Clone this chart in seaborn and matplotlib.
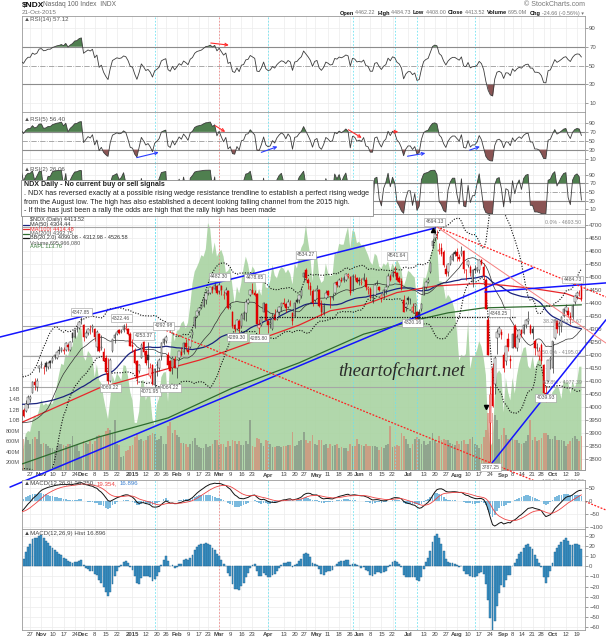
import numpy as np
import pandas as pd
import matplotlib
matplotlib.use("Agg")
import matplotlib.pyplot as plt
import seaborn as sns
from matplotlib.patches import Rectangle
from matplotlib.lines import Line2D
from matplotlib.transforms import ScaledTranslation

# ---------------- data ----------------
holidays = ["2014-11-27", "2014-12-25", "2015-01-01", "2015-01-19", "2015-02-16",
            "2015-04-03", "2015-05-25", "2015-07-03", "2015-09-07"]

# Aug 1 - Oct 20 2014 closes, only used to warm up the indicators
pre_close = [3925, 3950, 3910, 3915, 3900, 3940, 3965, 3965, 4000, 4015, 4025, 4045, 4060, 4065,
             4060, 4065, 4080, 4085, 4080, 4075, 4082,
             4090, 4070, 4065, 4080, 4085, 4050, 4065, 4070, 4050, 4020, 4045, 4055, 4075, 4075,
             4030, 4015, 4055, 3985, 4020, 4010, 4050,
             3990, 3995, 4030, 4025, 3960, 4030, 3940, 3855, 3795, 3805, 3795, 3795, 3850, 3905]

open_ = [3950, 3990, 3985, 4010, 4030, 4055, 4095, 4075, 4150,
         4160, 4150, 4170, 4155, 4175, 4175, 4192, 4190, 4220, 4220, 4215, 4220, 4240, 4220, 4285, 4270, 4300, 4305, 4340,
         4315, 4270, 4285, 4295, 4305, 4300, 4230, 4280, 4225, 4210, 4190, 4130, 4100, 4215, 4265, 4280, 4295, 4290, 4295, 4300, 4300, 4280,
         4240, 4220, 4175, 4140, 4190, 4250, 4215, 4200, 4120, 4160, 4085, 4160, 4150, 4195, 4245, 4255, 4200, 4175, 4150, 4185,
         4150, 4190, 4210, 4210, 4245, 4220, 4230, 4275, 4310, 4350, 4370, 4380, 4390, 4410, 4440, 4440, 4460, 4455, 4465,
         4445, 4465, 4430, 4440, 4445, 4385, 4365, 4315, 4300, 4330, 4310, 4340, 4360, 4400, 4430, 4450, 4440, 4435, 4305, 4315, 4365, 4395,
         4330, 4320, 4300, 4355, 4340, 4365, 4385, 4400, 4395, 4385, 4395, 4360, 4350, 4410, 4410, 4425, 4500, 4525, 4490, 4465, 4445,
         4410, 4450, 4450, 4395, 4360, 4420, 4445, 4415, 4420, 4440, 4480, 4465, 4490, 4490, 4490, 4505, 4500, 4450, 4500, 4495,
         4490, 4475, 4490, 4490, 4455, 4455, 4420, 4430, 4475, 4460, 4420, 4430, 4450, 4465, 4505, 4505, 4520, 4515, 4495, 4485, 4410, 4385,
         4420, 4410, 4370, 4390, 4365, 4365, 4375, 4430, 4460, 4480, 4520, 4620, 4650, 4660, 4600, 4610, 4595, 4530, 4520, 4550, 4565, 4595,
         4595, 4575, 4590, 4600, 4525, 4545, 4540, 4480, 4530, 4525, 4525, 4565, 4540, 4490, 4335, 3940, 4150, 4090, 4265, 4280, 4290,
         4200, 4175, 4260, 4185, 4225, 4310, 4225, 4260, 4295, 4285, 4315, 4330, 4310, 4300, 4255, 4225, 4195, 4240, 4160, 4055, 4100,
         4180, 4150, 4265, 4330, 4310, 4310, 4350, 4370, 4370, 4350, 4345, 4405, 4425, 4440, 4462]
high = [3990, 3995, 4025, 4045, 4045, 4100, 4110, 4110, 4160,
        4175, 4160, 4175, 4172, 4180, 4195, 4205, 4215, 4235, 4230, 4230, 4250, 4245, 4255, 4290, 4300, 4310, 4330, 4347,
        4320, 4295, 4305, 4315, 4320, 4305, 4295, 4285, 4275, 4225, 4200, 4190, 4190, 4260, 4285, 4295, 4300, 4300, 4320, 4322, 4305, 4290,
        4260, 4225, 4180, 4165, 4245, 4253, 4220, 4250, 4170, 4165, 4150, 4175, 4190, 4248, 4265, 4275, 4210, 4180, 4195, 4195,
        4185, 4215, 4230, 4250, 4260, 4235, 4275, 4300, 4350, 4370, 4385, 4395, 4420, 4445, 4450, 4462, 4465, 4480, 4470,
        4483, 4470, 4445, 4460, 4450, 4400, 4370, 4320, 4340, 4340, 4360, 4370, 4415, 4420, 4455, 4478, 4450, 4440, 4340, 4350, 4405, 4400,
        4335, 4340, 4360, 4375, 4375, 4390, 4400, 4420, 4400, 4415, 4410, 4365, 4405, 4420, 4435, 4460, 4520, 4534, 4495, 4480, 4455,
        4450, 4470, 4455, 4410, 4400, 4450, 4450, 4425, 4440, 4480, 4485, 4495, 4500, 4505, 4515, 4515, 4505, 4510, 4510, 4500,
        4500, 4495, 4515, 4500, 4465, 4460, 4435, 4475, 4490, 4465, 4435, 4455, 4470, 4515, 4510, 4525, 4541, 4520, 4505, 4495, 4430, 4405,
        4425, 4420, 4400, 4400, 4370, 4375, 4400, 4465, 4485, 4500, 4560, 4650, 4694, 4680, 4630, 4630, 4605, 4545, 4555, 4585, 4595, 4605,
        4610, 4590, 4620, 4605, 4530, 4565, 4545, 4530, 4545, 4540, 4570, 4570, 4555, 4495, 4345, 4080, 4170, 4195, 4300, 4310, 4300,
        4210, 4235, 4285, 4200, 4285, 4320, 4280, 4300, 4300, 4320, 4340, 4370, 4320, 4310, 4260, 4245, 4230, 4245, 4165, 4080, 4180,
        4195, 4255, 4340, 4335, 4330, 4350, 4380, 4395, 4385, 4365, 4395, 4430, 4445, 4450, 4485]
low = [3945, 3960, 3980, 3995, 4020, 4055, 4065, 4060, 4135,
       4150, 4125, 4140, 4145, 4150, 4170, 4185, 4185, 4205, 4210, 4205, 4215, 4215, 4215, 4250, 4265, 4290, 4300, 4320,
       4255, 4265, 4275, 4280, 4290, 4255, 4215, 4210, 4220, 4175, 4125, 4070, 4095, 4210, 4245, 4275, 4280, 4285, 4290, 4295, 4275, 4235,
       4210, 4165, 4090, 4130, 4190, 4200, 4160, 4150, 4110, 4085, 4075, 4120, 4140, 4180, 4240, 4245, 4150, 4140, 4125, 4150,
       4110, 4180, 4195, 4205, 4220, 4205, 4225, 4265, 4305, 4345, 4355, 4375, 4385, 4395, 4430, 4435, 4440, 4450, 4435,
       4435, 4430, 4415, 4430, 4375, 4375, 4305, 4290, 4295, 4280, 4305, 4335, 4330, 4395, 4425, 4435, 4425, 4320, 4280, 4310, 4365, 4335,
       4285, 4305, 4295, 4335, 4335, 4355, 4370, 4390, 4365, 4380, 4390, 4315, 4345, 4400, 4400, 4420, 4485, 4490, 4455, 4430, 4390,
       4405, 4445, 4385, 4350, 4355, 4415, 4425, 4380, 4410, 4435, 4460, 4460, 4480, 4480, 4485, 4495, 4430, 4445, 4490, 4475,
       4470, 4470, 4485, 4450, 4435, 4415, 4400, 4425, 4470, 4445, 4405, 4420, 4435, 4460, 4485, 4500, 4505, 4485, 4475, 4450, 4365, 4370,
       4395, 4395, 4360, 4330, 4320, 4320, 4370, 4430, 4455, 4475, 4515, 4610, 4640, 4645, 4590, 4580, 4540, 4505, 4505, 4545, 4560, 4580,
       4560, 4560, 4580, 4515, 4490, 4540, 4505, 4460, 4515, 4520, 4515, 4545, 4490, 4375, 4200, 3787, 4000, 4050, 4205, 4270, 4260,
       4135, 4160, 4215, 4150, 4225, 4225, 4215, 4250, 4270, 4280, 4305, 4320, 4280, 4260, 4200, 4215, 4180, 4165, 4050, 4020, 4095,
       4145, 4130, 4260, 4285, 4275, 4290, 4345, 4365, 4345, 4320, 4340, 4395, 4415, 4425, 4408]
close = [3985, 3965, 4010, 4040, 4040, 4095, 4085, 4100, 4158,
         4165, 4150, 4155, 4170, 4170, 4190, 4200, 4210, 4215, 4225, 4220, 4245, 4230, 4250, 4265, 4295, 4300, 4325, 4335,
         4270, 4285, 4300, 4295, 4310, 4270, 4290, 4215, 4230, 4175, 4135, 4100, 4180, 4260, 4275, 4290, 4285, 4290, 4310, 4305, 4280, 4236,
         4230, 4170, 4110, 4160, 4240, 4210, 4170, 4180, 4150, 4090, 4145, 4160, 4180, 4245, 4260, 4270, 4160, 4140, 4190, 4150,
         4180, 4215, 4200, 4245, 4230, 4210, 4270, 4290, 4345, 4370, 4380, 4390, 4415, 4440, 4445, 4460, 4450, 4470, 4440,
         4470, 4450, 4430, 4450, 4380, 4390, 4310, 4300, 4335, 4300, 4355, 4360, 4405, 4410, 4450, 4440, 4430, 4320, 4315, 4345, 4400, 4335,
         4315, 4320, 4350, 4335, 4365, 4385, 4400, 4395, 4380, 4405, 4395, 4330, 4400, 4405, 4430, 4450, 4515, 4495, 4475, 4450, 4400,
         4445, 4455, 4390, 4365, 4390, 4440, 4430, 4415, 4420, 4475, 4470, 4490, 4485, 4495, 4510, 4505, 4440, 4505, 4500, 4480,
         4485, 4480, 4495, 4460, 4455, 4420, 4420, 4470, 4475, 4450, 4430, 4450, 4460, 4505, 4490, 4520, 4515, 4490, 4480, 4455, 4365, 4395,
         4410, 4410, 4385, 4395, 4325, 4330, 4395, 4460, 4480, 4490, 4555, 4640, 4665, 4660, 4605, 4590, 4545, 4510, 4550, 4575, 4590, 4590,
         4580, 4570, 4600, 4530, 4525, 4560, 4515, 4525, 4525, 4535, 4565, 4550, 4505, 4375, 4200, 4050, 4005, 4190, 4290, 4305, 4275,
         4150, 4235, 4230, 4175, 4280, 4230, 4270, 4295, 4280, 4315, 4335, 4340, 4285, 4285, 4225, 4225, 4215, 4175, 4055, 4050, 4180,
         4190, 4255, 4335, 4300, 4320, 4345, 4375, 4385, 4355, 4335, 4390, 4425, 4440, 4438, 4414]
volume_m = [700, 650, 680, 620, 560, 640, 690, 640, 800,
            560, 580, 560, 520, 480, 470, 430, 520, 560, 560, 540, 520, 560, 560, 700, 520, 540, 420, 300,
            610, 580, 560, 600, 560, 600, 700, 720, 680, 730, 800, 860, 820, 760, 1000, 560, 540, 300, 330, 420, 430, 520,
            540, 680, 760, 620, 640, 600, 620, 700, 720, 760, 750, 620, 640, 700, 560, 560, 900, 980, 760, 820,
            720, 680, 580, 580, 560, 500, 560, 600, 660, 540, 500, 480, 480, 560, 500, 520, 560, 620, 620,
            540, 560, 560, 500, 600, 520, 620, 600, 560, 600, 540, 540, 600, 560, 1000, 520, 500, 660, 640, 580, 520, 620,
            600, 560, 500, 500, 520, 520, 500, 520, 520, 540, 540, 780, 520, 540, 600, 620, 780, 620, 580, 600, 720,
            560, 540, 620, 620, 540, 560, 480, 560, 520, 540, 560, 480, 500, 480, 480, 420, 560, 520, 520, 640,
            560, 540, 520, 560, 520, 520, 520, 520, 500, 440, 500, 480, 540, 560, 900, 500, 520, 540, 520, 760, 700, 640,
            560, 480, 560, 640, 680, 640, 560, 600, 540, 560, 600, 760, 620, 580, 700, 620, 640, 620, 620, 580, 560, 540,
            600, 560, 600, 620, 560, 560, 640, 680, 560, 540, 480, 560, 680, 820, 1150, 1480, 1150, 1100, 1000, 640, 720,
            860, 720, 640, 620, 640, 620, 620, 580, 560, 580, 600, 720, 1000, 620, 680, 600, 620, 660, 760, 760, 720,
            640, 640, 700, 620, 620, 620, 600, 520, 560, 600, 660, 700, 640, 600, 696]
aapl = [102.5, 102.9, 104.8, 105.2, 105.1, 106.7, 107.3, 107.0, 108.0,
        109.4, 108.6, 108.9, 108.7, 109.0, 108.8, 109.7, 111.3, 112.8, 114.2, 114.0, 115.5, 115.2, 116.3, 116.5, 118.6, 117.6, 119.0, 118.9,
        115.1, 114.6, 115.9, 115.5, 115.0, 112.4, 114.1, 112.0, 111.6, 109.7, 108.2, 106.8, 109.4, 112.7, 111.8, 112.9, 112.5, 112.0, 114.0, 113.9, 112.5, 110.4,
        109.3, 106.3, 106.3, 107.8, 111.9, 112.0, 109.3, 110.2, 109.8, 106.8, 106.0, 108.7, 109.6, 112.4, 113.0, 113.1, 109.1, 115.3, 118.9, 117.2,
        118.6, 118.7, 119.6, 119.9, 118.9, 119.7, 122.0, 124.9, 126.5, 127.1, 127.8, 128.7, 128.5, 129.5, 133.0, 132.2, 128.8, 130.4, 128.5,
        129.1, 129.4, 128.5, 126.4, 126.6, 127.1, 124.5, 122.2, 124.5, 123.6, 125.0, 127.0, 128.5, 127.5, 125.9, 127.2, 126.7, 123.4, 124.2, 123.3, 126.4, 124.4,
        124.3, 125.3, 127.4, 126.0, 125.6, 126.6, 127.1, 126.9, 126.3, 126.8, 126.2, 124.8, 127.6, 126.9, 128.6, 129.7, 130.3, 132.7, 130.6, 128.6, 125.2,
        129.0, 128.7, 125.8, 125.0, 125.3, 127.6, 126.3, 125.9, 126.0, 129.0, 128.8, 130.2, 130.1, 130.1, 131.4, 132.5, 129.6, 132.0, 131.8, 130.3,
        130.5, 130.0, 130.1, 129.4, 128.7, 127.8, 127.4, 128.9, 128.6, 127.2, 126.9, 127.6, 127.3, 127.9, 126.6, 127.6, 127.0, 128.1, 127.5, 126.8, 124.5, 125.4,
        126.6, 126.4, 126.0, 125.7, 122.6, 120.1, 123.3, 125.7, 125.6, 126.8, 128.5, 129.6, 132.1, 130.8, 125.2, 125.2, 124.5, 122.8, 123.4, 123.0, 122.4, 121.3,
        118.4, 114.6, 115.4, 115.1, 115.5, 119.7, 113.5, 115.2, 115.2, 116.0, 117.2, 116.5, 115.0, 112.7, 105.8, 103.1, 103.7, 109.7, 112.9, 113.3, 112.8,
        107.7, 112.3, 110.4, 109.3, 112.3, 110.2, 112.6, 114.2, 115.3, 116.3, 116.4, 113.9, 113.5, 115.2, 113.4, 114.3, 115.0, 114.7, 112.4, 109.1, 110.3,
        109.6, 110.4, 110.8, 111.3, 110.8, 109.5, 112.1, 111.6, 111.8, 110.2, 111.9, 111.0, 111.7, 113.8, 113.8]

ma100_dates = ["2014-10-21", "2014-12-10", "2015-01-15", "2015-02-17", "2015-03-02", "2015-04-22",
               "2015-05-12", "2015-06-03", "2015-06-24", "2015-07-20", "2015-08-17", "2015-09-01",
               "2015-09-21", "2015-10-12", "2015-10-21"]
ma100_vals = [3940, 4073, 4131, 4180, 4205, 4315, 4370, 4392, 4440, 4465, 4475, 4468, 4456, 4436, 4414.5]
ma200_dates = ["2014-10-21", "2014-12-10", "2015-01-27", "2015-03-10", "2015-04-22", "2015-06-03",
               "2015-07-08", "2015-07-28", "2015-08-19", "2015-09-21", "2015-10-21"]
ma200_vals = [3780, 3885, 3958, 4073, 4170, 4280, 4335, 4362, 4381, 4386, 4392.75]

tick_dates = ["2014-10-27", "2014-11-03", "2014-11-10", "2014-11-17", "2014-11-24", "2014-12-01",
              "2014-12-08", "2014-12-15", "2014-12-22", "2015-01-02", "2015-01-12", "2015-01-20",
              "2015-01-26", "2015-02-02", "2015-02-09", "2015-02-17", "2015-02-23", "2015-03-02",
              "2015-03-09", "2015-03-16", "2015-03-23", "2015-04-01", "2015-04-13", "2015-04-20",
              "2015-04-27", "2015-05-01", "2015-05-11", "2015-05-18", "2015-05-26", "2015-06-01",
              "2015-06-08", "2015-06-15", "2015-06-22", "2015-07-01", "2015-07-13", "2015-07-20",
              "2015-07-27", "2015-08-03", "2015-08-10", "2015-08-17", "2015-08-24", "2015-09-01",
              "2015-09-08", "2015-09-14", "2015-09-21", "2015-09-28", "2015-10-01", "2015-10-12",
              "2015-10-19"]
tick_labels = ["27", "Nov", "10", "17", "24", "Dec", "8", "15", "22", "2015", "12", "20", "26", "Feb",
               "9", "17", "23", "Mar", "9", "16", "23", "Apr", "13", "20", "27", "May", "11", "18", "26",
               "Jun", "8", "15", "22", "Jul", "13", "20", "27", "Aug", "10", "17", "24", "Sep", "8", "14",
               "21", "28", "Oct", "12", "19"]
# small sideways nudges (points) for tick labels that would touch
tick_nudge = {"2015-09-28": -2.0, "2015-10-01": 2.0, "2015-04-27": -1.0, "2015-05-01": 1.0}

cyan_dates = ["2015-01-16", "2015-04-01", "2015-05-27", "2015-06-23", "2015-07-08", "2015-08-13"]
red_dates = ["2015-03-02"]

fib_high, fib_low = 4693.50, 3696.56
fib_pcts = [0.0, 38.2, 50.0, 61.8, 100.0]

# hand drawn lines: (x0, price0, x1, price1) in trading-day units
blue_lines = [(-9.6, 4269, 186.1, 4688), (-5.1, 3692, 230.2, 4535),
              (208.6, 4442, 263, 4477), (211.8, 3785, 263, 4335)]
red_lines = [(187, 4692, 263, 4423), (62.4, 4304, 263, 3604)]
red_thin_lines = [(187, 4692, 263, 4246)]
support_line = (107, 4346, 222)

price_tags = [("4347.85", 27, 4365), ("4322.46", 45, 4342), ("4253.37", 55, 4273), ("4292.98", 64, 4312),
              ("4069.22", 40, 4073), ("4071.95", 58, 4058), ("4064.22", 67, 4073), ("4482.30", 89, 4500),
              ("4478.65", 105, 4496), ("4289.30", 97, 4269), ("4285.80", 107, 4265), ("4534.27", 128, 4585),
              ("4541.64", 169, 4581), ("4694.13", 186, 4712), ("4320.16", 176, 4323), ("4348.25", 215, 4361),
              ("4484.73", 248, 4490), ("3787.25", 211, 3769), ("4039.93", 236, 4035)]

rsi14_arrows = [((84.0, 74.3), (94.6, 71.4), "red")]
rsi5_arrows = [((50.7, 10.5), (63.0, 25.4), "blue"), ((86.2, 87.1), (92.8, 66.8), "red"),
               ((106.8, 21.8), (116.4, 38.9), "blue"), ((146.1, 78.1), (154.2, 53.3), "red"),
               ((166.3, 70.4), (170.8, 70.4), "red"), ((172.5, 14.1), (183.0, 23.1), "blue"),
               ((200.5, 26.9), (207.5, 38.9), "blue")]

note_lines = ["NDX Daily - No current buy or sell signals",
              ". NDX has reversed exactly at a possible rising wedge resistance trendline to establish a perfect rising wedge",
              "from the August low. The high has also established a decent looking falling channel from the 2015 high.",
              "- If this has just been a rally the odds are high that the rally high has been made"]

# ---------------- derived series ----------------
days = pd.bdate_range("2014-10-21", "2015-10-21")
days = days[~days.isin(pd.to_datetime(holidays))]
n = len(days)
for arr in (open_, high, low, close, volume_m, aapl):
    assert len(arr) == n, len(arr)
idx = np.arange(n)
pos = lambda ds: days.get_indexer(pd.to_datetime(ds))

o, h, l, c = (np.array(a, float) for a in (open_, high, low, close))
full = pd.Series(pre_close + close, dtype=float)


def rsi(s, k):
    d = s.diff()
    up = d.clip(lower=0).ewm(alpha=1 / k, adjust=False).mean()
    dn = (-d.clip(upper=0)).ewm(alpha=1 / k, adjust=False).mean()
    return (100 - 100 / (1 + up / dn)).to_numpy()[-n:]


r14, r5, r2 = rsi(full, 14), rsi(full, 5), rsi(full, 2)
macd_full = full.ewm(span=12, adjust=False).mean() - full.ewm(span=26, adjust=False).mean()
sig_full = macd_full.ewm(span=9, adjust=False).mean()
macd = macd_full.to_numpy()[-n:]
sig = sig_full.to_numpy()[-n:]
hist = macd - sig
ma50 = full.rolling(50).mean().to_numpy()[-n:]
bb_mid = full.rolling(20).mean().to_numpy()[-n:]
bb_sd = full.rolling(20).std(ddof=0).to_numpy()[-n:]
prev = np.r_[pre_close[-1], c[:-1]]
down = c < prev

# ---------------- figure ----------------
sns.set_style("white")
plt.rcParams['font.family'] = ['Liberation Sans', 'DejaVu Sans']
W, H = 606, 640
fig = plt.figure(figsize=(W / 100, H / 100), dpi=100)
fig.patch.set_facecolor("white")
renderer = fig.canvas.get_renderer()
XL = (0.3, 253.6)
tick_idx = pos(tick_dates)


def ftext(x, y, s, **kw):
    kw.setdefault("va", "center")
    return fig.text(x / W, 1 - y / H, s, **kw)


def text_row(x, y, parts, align="left", gap=2.0):
    # lay pieces of text side by side, measured so they never overlap
    objs = [ftext(x, y, s, **kw) for s, kw in parts]
    widths = [t.get_window_extent(renderer).width for t in objs]
    cur = x - (sum(widths) + gap * (len(objs) - 1)) if align == "right" else x
    for t, w in zip(objs, widths):
        t.set_x(cur / W)
        cur += w + gap


def panel(top, bottom, yl, yt, frame=True):
    ax = fig.add_axes([22 / W, 1 - bottom / H, 563 / W, (bottom - top) / H])
    ax.set_xlim(*XL)
    ax.set_ylim(*yl)
    for s in ax.spines.values():
        s.set_color("#9a9a9a")
        s.set_linewidth(0.6)
        s.set_visible(frame)
    ax.tick_params(axis="x", bottom=False, labelbottom=False)
    ax.yaxis.tick_right()
    ax.set_yticks(yt)
    ax.tick_params(axis="y", labelsize=4.3, length=2, width=0.4, pad=1, colors="#555555")
    return ax


def decorate(ax, hgrid):
    for t in tick_idx:
        ax.axvline(t, color="#ececec", lw=0.5, zorder=0)
    for v in hgrid:
        ax.axhline(v, color="#ececec", lw=0.5, zorder=0)
    for t in pos(cyan_dates):
        ax.axvline(t, color="#6fe3f2", lw=0.6, ls=(0, (2, 2)), zorder=1)
    for t in pos(red_dates):
        ax.axvline(t, color="#f08a8a", lw=0.6, ls=(0, (2, 2)), zorder=1)


def date_axis(ax, pad):
    ax.set_xticks(tick_idx)
    ax.set_xticklabels(tick_labels)
    ax.tick_params(axis="x", bottom=True, labelbottom=True, length=0, pad=pad, labelsize=4.3, colors="#444444")
    for t, d in zip(ax.get_xticklabels(), tick_dates):
        if not t.get_text().isdigit() or t.get_text() == "2015":
            t.set_fontweight("bold")
        if d in tick_nudge:
            t.set_transform(t.get_transform() + ScaledTranslation(tick_nudge[d] / 72, 0, fig.dpi_scale_trans))


def rsi_panel(top, bottom, yl, vals, arrows):
    ax = panel(top, bottom, yl, [10, 30, 50, 70, 90])
    decorate(ax, [10, 90])
    ax.axhline(70, color="#8c8c8c", lw=0.8, zorder=1)
    ax.axhline(30, color="#8c8c8c", lw=0.8, zorder=1)
    ax.axhline(50, color="#9a9a9a", lw=0.6, ls="-.", zorder=1)
    ax.fill_between(idx, vals, 70, where=vals >= 70, interpolate=True, color="#4f7f4f", lw=0, zorder=2)
    ax.fill_between(idx, vals, 30, where=vals <= 30, interpolate=True, color="#8a5454", lw=0, zorder=2)
    sns.lineplot(x=idx, y=vals, ax=ax, color="#3c3c3c", lw=0.6, legend=False, zorder=3)
    for (x0, y0), (x1, y1), col in arrows:
        ax.annotate("", xy=(x1, y1), xytext=(x0, y0),
                    arrowprops=dict(arrowstyle="->", color={"red": "#ff2a2a", "blue": "#2a3cff"}[col],
                                    lw=0.8, mutation_scale=5), zorder=4)
    ax.set_xlim(*XL)
    ax.set_ylim(*yl)
    ax.set_xlabel("")
    ax.set_ylabel("")
    return ax


# header
ftext(22, 5, "$NDX", fontsize=6, fontweight="bold", color="#111111")
ftext(43, 5, "Nasdaq 100 Index  INDX", fontsize=4.8, color="#666666")
ftext(22, 13, "21-Oct-2015", fontsize=4.5, color="#777777")
ftext(585, 5, "\u00a9 StockCharts.com", fontsize=5, color="#777777", ha="right")
lab_kw = dict(fontsize=4.1, fontweight="bold", color="#111111")
val_kw = dict(fontsize=3.9, color="#777777")
hdr = []
for lab, val in [("Open", "4462.22"), ("High", "4484.73"), ("Low", "4408.00"),
                 ("Close", "4413.52"), ("Volume", "695.0M"), ("Chg", "-24.66 (-0.56%) \u25be")]:
    hdr += [(lab, lab_kw), (val + " ", val_kw)]
text_row(585, 13, hdr, align="right", gap=1.2)

# RSI panels
ax14 = rsi_panel(16, 112, (0.4, 102.8), r14, rsi14_arrows)
ftext(24, 20, "\u25b2RSI(14) 57.12", fontsize=4.4, color="#555555")
ax5 = rsi_panel(112, 163, (-0.1, 114.8), r5, rsi5_arrows)
ftext(24, 119, "\u25b2RSI(5) 56.40", fontsize=4.4, color="#555555")
ax2 = rsi_panel(163, 214, (-0.3, 116.3), r2, [])
ftext(24, 170, "\u25b2RSI(2) 26.06", fontsize=4.4, color="#555555", zorder=22)

# main price panel (stacked axes: grid, AAPL area, volume, price)
main_yl = (3757.7, 4742)
ax_grid = panel(214, 470, main_yl, [])
ax_grid.tick_params(axis="y", right=False, labelright=False)
decorate(ax_grid, range(3800, 4701, 50))

ax_aapl = panel(214, 470, (100.0, 134.2), [], frame=False)
ax_aapl.patch.set_visible(False)
ax_aapl.tick_params(axis="y", right=False, labelright=False)
ax_aapl.fill_between(idx, aapl, 0, color="#a9d3a2", alpha=0.9, lw=0)

ax_vol = panel(214, 470, (57e6, 4.933e9), [], frame=False)
ax_vol.patch.set_visible(False)
vol = np.array(volume_m) * 1e6
ax_vol.bar(idx, vol, width=0.8, color=np.where(down, "#d9826f", "#7f8a7f"), alpha=0.65, lw=0)
ax_vol.yaxis.tick_left()
ax_vol.set_yticks(np.arange(2e8, 1.7e9, 2e8))
ax_vol.set_yticklabels(["200M", "400M", "600M", "800M", "1.0B", "1.2B", "1.4B", "1.6B"])
ax_vol.tick_params(axis="y", left=True, right=False, labelleft=True, labelright=False,
                   labelsize=4.0, length=0, pad=1.5, colors="#555555")

ax = panel(214, 470, main_yl, range(3800, 4701, 50), frame=True)
ax.patch.set_visible(False)
for t in pos(cyan_dates):
    ax.axvline(t, color="#6fe3f2", lw=0.6, ls=(0, (2, 2)), zorder=1)
for t in pos(red_dates):
    ax.axvline(t, color="#f08a8a", lw=0.6, ls=(0, (2, 2)), zorder=1)

# fibonacci levels
span = fib_high - fib_low
for p in fib_pcts:
    lvl = fib_high - span * p / 100
    if p < 100:
        ax.axhline(lvl, color="#a6a6a6", lw=0.8, zorder=1)
    ax.text(252 if p < 100 else 253, lvl + 6, f"{p:.1f}% - {lvl:.2f}", fontsize=3.8, color="#888888",
            ha="right", va="bottom", clip_on=False, zorder=6)

# moving averages and bands
sns.lineplot(x=idx, y=ma50, ax=ax, color="#1a237e", lw=0.9, legend=False, zorder=3)
sns.lineplot(x=pos(ma100_dates), y=ma100_vals, ax=ax, color="#e8262a", lw=0.9, legend=False, zorder=3)
sns.lineplot(x=pos(ma200_dates), y=ma200_vals, ax=ax, color="#2e6b2e", lw=0.9, legend=False, zorder=3)
sns.lineplot(x=idx, y=bb_mid, ax=ax, color="#333333", lw=0.5, legend=False, zorder=3)
for band in (bb_mid + 2 * bb_sd, bb_mid - 2 * bb_sd):
    ax.plot(idx, band, color="#111111", lw=0.8, ls=(0, (1, 1.4)), zorder=3)

# candles
edge = np.where(down, "#e00000", "#333333")
face = np.where(c < o, edge, "white")
ax.vlines(idx, l, h, colors=edge, lw=0.5, zorder=4)
ax.bar(idx, np.maximum(np.abs(c - o), 1.5), bottom=np.minimum(o, c), width=0.7,
       color=face, edgecolor=edge, lw=0.35, zorder=5)

# hand drawn lines
for x0, y0, x1, y1 in blue_lines:
    ax.plot([x0, x1], [y0, y1], color="#1414ff", lw=1.1, clip_on=False, zorder=6)
for x0, y0, x1, y1 in red_lines:
    ax.plot([x0, x1], [y0, y1], color="#ff2020", lw=0.9, ls=(0, (1.5, 1.2)), clip_on=False, zorder=6)
for x0, y0, x1, y1 in red_thin_lines:
    ax.plot([x0, x1], [y0, y1], color="#f58080", lw=0.7, clip_on=False, zorder=6)
sx0, sy, sx1 = support_line
ax.plot([sx0, sx1], [sy, sy], color="#111111", lw=0.9, ls=(0, (1, 1)), zorder=6)
ax.plot([pos(["2015-07-17"])[0]], [4681], marker="^", ms=3, color="black", zorder=7)
ax.plot([pos(["2015-08-20"])[0]], [4001], marker="v", ms=3, color="black", zorder=7)

for txt, x, y in price_tags:
    ax.text(x, y, txt, fontsize=3.6, color="#555555", ha="center", va="center", zorder=7,
            bbox=dict(boxstyle="square,pad=0.25", fc="white", ec="#9a9a9a", lw=0.4))

ax.text(pos(["2015-06-26"])[0], 4140, "theartofchart.net", fontsize=13.5, style="italic",
        family=["Liberation Serif", "DejaVu Serif"], color="#2a2a2a", ha="center", va="center", zorder=7)

date_axis(ax, 1.8)
ax.set_xlim(*XL)
ax.set_ylim(*main_yl)
ax.set_xlabel("")
ax.set_ylabel("")

# main legend
legend_rows = [(220, "$NDX (Daily) 4413.52", "#333333", None),
               (224.5, "MA(50) 4304.44", "#333333", "#1a237e"),
               (229, "MA(100) 4414.48", "#e8262a", "#e8262a"),
               (233.5, "MA(200) 4392.75", "#555555", "#2e6b2e"),
               (238, "BB(20,2.0) 4099.08 - 4312.98 - 4526.58", "#333333", "#111111"),
               (242.5, "Volume 695,966,080", "#555555", None),
               (247, "AAPL 113.76", "#3f7f3f", None)]
for y, s, col, sw in legend_rows:
    if sw:
        fig.add_artist(Line2D([23 / W, 28.5 / W], [1 - y / H] * 2, color=sw, lw=0.9,
                              transform=fig.transFigure, zorder=8))
    ftext(29.5, y, s, fontsize=4.0, color=col, zorder=8)

# MACD panel
axm = panel(480, 529, (-107.5, 80), [50, 0, -50, -100])
decorate(axm, [50, 0, -50, -100])
axm.bar(idx, hist, width=0.8, color="#5aa9d6", alpha=0.8, lw=0, zorder=2)
sns.lineplot(x=idx, y=macd, ax=axm, color="#111111", lw=0.7, legend=False, zorder=3)
sns.lineplot(x=idx, y=sig, ax=axm, color="#ee4444", lw=0.6, legend=False, zorder=3)
axm.set_xlim(*XL)
axm.set_ylim(-107.5, 80)
axm.set_xlabel("")
axm.set_ylabel("")
text_row(24, 483.5, [("\u25b2MACD(12,26,9) 36.250,", dict(fontsize=4.4, color="#444444")),
                     ("19.354,", dict(fontsize=4.4, color="#ee4444")),
                     ("16.896", dict(fontsize=4.4, color="#3a7fd0"))], gap=2.0)

# MACD histogram panel
axh = panel(529, 630, (-63, 36.9), range(-60, 31, 10))
decorate(axh, range(-60, 31, 10))
axh.bar(idx, hist, width=0.85, color="#3d95c8", edgecolor="#1f5e8a", lw=0.3, zorder=2)
date_axis(axh, 1.2)
ftext(24, 534, "\u25b2MACD(12,26,9) Hist 16.896", fontsize=4.4, color="#444444")

# comment box
fig.add_artist(Rectangle((21 / W, 1 - 216 / H), 352 / W, 36 / H, transform=fig.transFigure,
                         facecolor="white", edgecolor="#8a8a8a", lw=0.6, zorder=20))
for i, s in enumerate(note_lines):
    ftext(23.5, 185 + 8.6 * i, s, fontsize=5.15, color="#222222", zorder=21,
          fontweight="bold" if i == 0 else "normal")

fig.savefig("out.png", dpi=100, facecolor="white")
